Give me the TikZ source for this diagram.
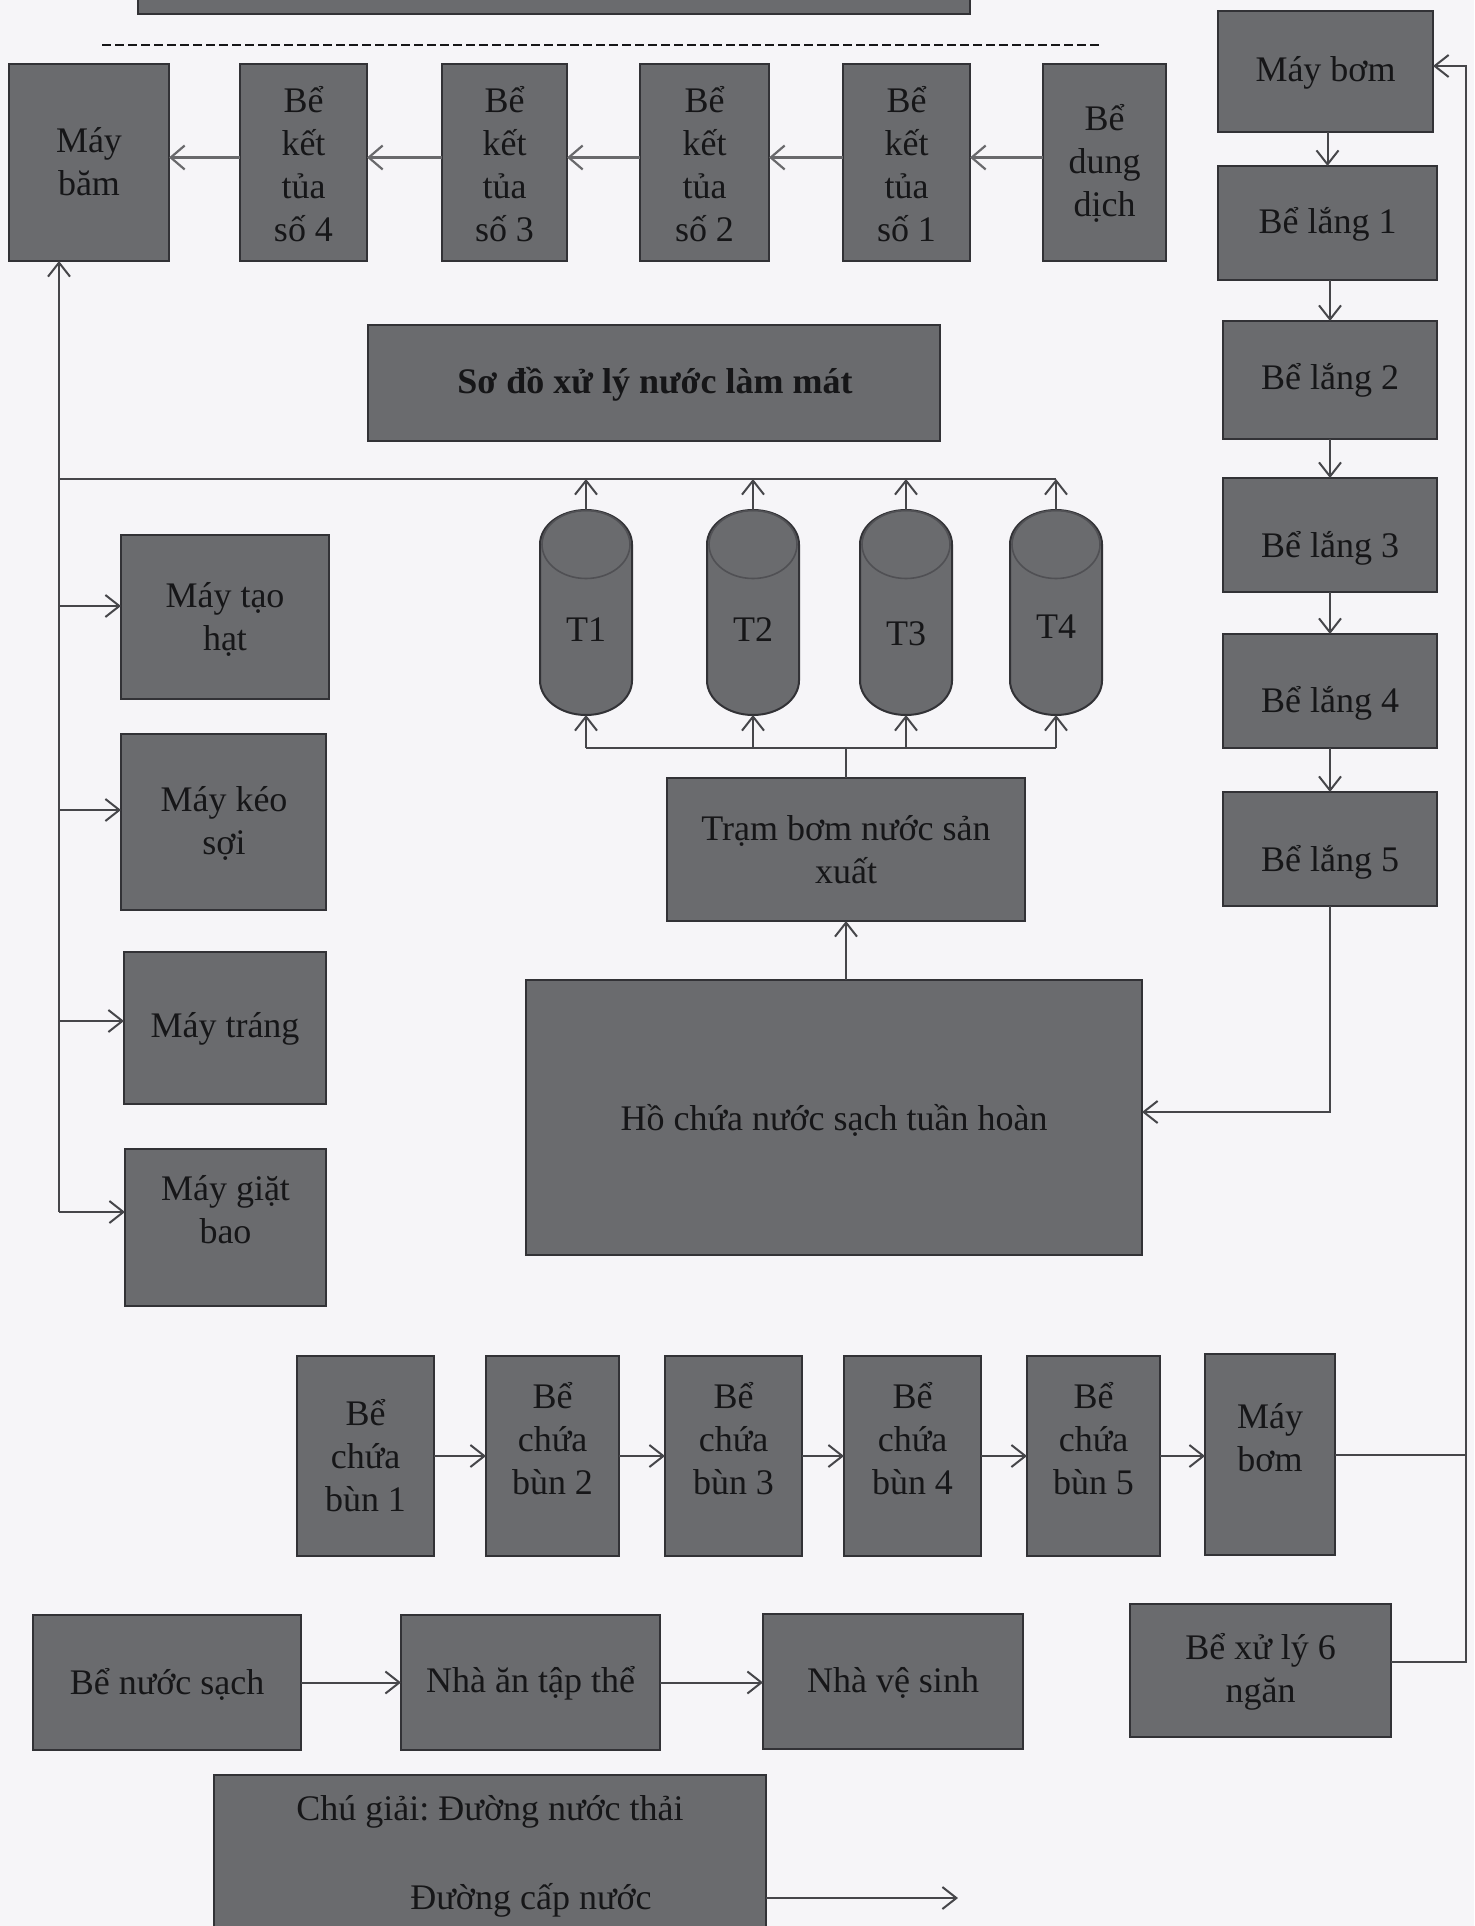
\documentclass[tikz,border=0pt]{standalone}
\usepackage{fontspec}
\setmainfont{Liberation Serif}
\usetikzlibrary{arrows.meta,calc}
\frenchspacing
\definecolor{bg}{RGB}{246,245,248}
\definecolor{boxfill}{RGB}{106,107,110}
\definecolor{boxline}{RGB}{50,50,54}
\definecolor{conn}{RGB}{70,70,74}
\definecolor{connT}{RGB}{105,105,108}
\definecolor{txtc}{RGB}{22,22,24}
\definecolor{cylrim}{RGB}{80,80,84}
\tikzset{
  box/.style={draw=boxline, fill=boxfill, line width=2pt, inner sep=0pt, outer sep=0pt},
  txt/.style={text=txtc, align=center, inner sep=0pt, font=\fontsize{36}{43}\selectfont},
  cylanchor/.style={inner sep=0pt, outer sep=0pt, minimum width=92pt, minimum height=205pt},
  cylbody/.style={draw=boxline, fill=boxfill, line width=2pt},
  cyltop/.style={draw=cylrim, line width=1.6pt},
  plainline/.style={draw=conn, line width=2pt},
  arr/.style={draw=conn, line width=2pt, -{Straight Barb[length=14pt,width=22pt,line width=2pt]}},
  arrT/.style={draw=connT, line width=3pt, -{Straight Barb[length=14pt,width=24pt,line width=2.2pt]}},
  dashline/.style={draw=txtc, line width=2.6pt, dash pattern=on 9pt off 4pt}
}
\newcommand\bx[5]{\node[box, minimum width={(#4)-(#2)}, minimum height={(#5)-(#3)}] (#1) at ({((#2)+(#4))/2},{((#3)+(#5))/2}) {};}
\newcommand\cyl[3]{%
  \node[cylanchor] (#1) at (#2,612.5) {};
  \path[cylbody] ({#2-46},544.5) arc[start angle=180,end angle=0,x radius=46pt,y radius=34.5pt]
     -- ({#2+46},680.5) arc[start angle=0,end angle=-180,x radius=46pt,y radius=34.5pt] -- cycle;
  \draw[cyltop] (#2,544.5) ellipse [x radius=44pt, y radius=34pt];
  \node[txt] (#1t) at (#2,#3) {#1};
}
\begin{document}
\begin{tikzpicture}[x=1pt,y=-1pt]
\useasboundingbox (0,0) rectangle (1474,1926);
\clip (0,0) rectangle (1474,1926);
\fill[bg] (0,0) rectangle (1474,1926);

% top bar (cut off) and dashed line
\bx{topbar}{138}{-40}{970}{14}
\coordinate (dashA) at (102,45);
\coordinate (dashB) at (1102,45);
\draw[dashline] (dashA) -- (dashB);

% top row
\bx{bam}{9}{64}{169}{261}
\bx{kt4}{240}{64}{367}{261}
\bx{kt3}{442}{64}{567}{261}
\bx{kt2}{640}{64}{769}{261}
\bx{kt1}{843}{64}{970}{261}
\bx{dd}{1043}{64}{1166}{261}
\node[txt] (bamt) at (89,162) {Máy\\băm};
\node[txt] (kt4t) at (303.5,164) {Bể\\kết\\tủa\\số 4};
\node[txt] (kt3t) at (504.5,164) {Bể\\kết\\tủa\\số 3};
\node[txt] (kt2t) at (704.5,164) {Bể\\kết\\tủa\\số 2};
\node[txt] (kt1t) at (906.5,164) {Bể\\kết\\tủa\\số 1};
\node[txt] (ddt) at (1104.5,163) {Bể\\dung\\dịch};

% right column
\bx{bomA}{1218}{11}{1433}{132}
\bx{lang1}{1218}{166}{1437}{280}
\bx{lang2}{1223}{321}{1437}{439}
\bx{lang3}{1223}{478}{1437}{592}
\bx{lang4}{1223}{634}{1437}{748}
\bx{lang5}{1223}{792}{1437}{906}
\node[txt] (bomAt) at (1325.5,73) {Máy bơm};
\node[txt] (lang1t) at (1327.5,224) {Bể lắng 1};
\node[txt] (lang2t) at (1330,380) {Bể lắng 2};
\node[txt] (lang3t) at (1330,548) {Bể lắng 3};
\node[txt] (lang4t) at (1330,703) {Bể lắng 4};
\node[txt] (lang5t) at (1330,862) {Bể lắng 5};

% title
\bx{title}{368}{325}{940}{441}
\node[txt, font=\fontsize{36}{43}\selectfont\bfseries] (titlet) at (655,384) {Sơ đồ xử lý nước làm mát};

% machines on the left
\bx{taohat}{121}{535}{329}{699}
\bx{keosoi}{121}{734}{326}{910}
\bx{trang}{124}{952}{326}{1104}
\bx{giat}{125}{1149}{326}{1306}
\node[txt] (taohatt) at (225,619) {Máy tạo\\hạt};
\node[txt] (keosoit) at (224,823) {Máy kéo\\sợi};
\node[txt] (trangt) at (225,1029) {Máy tráng};
\node[txt] (giatt) at (225.5,1210) {Máy giặt\\bao};

% cylinders
\cyl{T1}{586}{630}
\cyl{T2}{753}{630}
\cyl{T3}{906}{634}
\cyl{T4}{1056}{627}

% pump station and reservoir
\bx{tram}{667}{778}{1025}{921}
\bx{ho}{526}{980}{1142}{1255}
\node[txt] (tramt) at (846,850) {Trạm bơm nước sản\\xuất};
\node[txt] (hot) at (834,1120) {Hồ chứa nước sạch tuần hoàn};

% sludge row
\bx{bun1}{297}{1356}{434}{1556}
\bx{bun2}{486}{1356}{619}{1556}
\bx{bun3}{665}{1356}{802}{1556}
\bx{bun4}{844}{1356}{981}{1556}
\bx{bun5}{1027}{1356}{1160}{1556}
\bx{bomB}{1205}{1354}{1335}{1555}
\node[txt] (bun1t) at (365.5,1456) {Bể\\chứa\\bùn 1};
\node[txt] (bun2t) at (552.5,1439) {Bể\\chứa\\bùn 2};
\node[txt] (bun3t) at (733.5,1439) {Bể\\chứa\\bùn 3};
\node[txt] (bun4t) at (912.5,1439) {Bể\\chứa\\bùn 4};
\node[txt] (bun5t) at (1093.5,1439) {Bể\\chứa\\bùn 5};
\node[txt] (bomBt) at (1270,1438) {Máy\\bơm};

% domestic row
\bx{sach}{33}{1615}{301}{1750}
\bx{nhaan}{401}{1615}{660}{1750}
\bx{vesinh}{763}{1614}{1023}{1749}
\bx{xuly}{1130}{1604}{1391}{1737}
\node[txt] (sacht) at (167,1684) {Bể nước sạch};
\node[txt] (nhaant) at (530.5,1683) {Nhà ăn tập thể};
\node[txt] (vesinht) at (893,1683) {Nhà vệ sinh};
\node[txt] (xulyt) at (1260.5,1672) {Bể xử lý 6\\ngăn};

% legend
\bx{legend}{214}{1775}{766}{1990}
\node[txt] (legA) at (490,1812) {Chú giải: Đường nước thải};
\node[txt] (legB) at (531,1900) {Đường cấp nước};
\coordinate (legEnd) at (958,1898);
\draw[arr] (legend.east |- legEnd) -- (legEnd);

% ---------- connectors ----------
% top row, right to left
\draw[arrT] ([yshift=5pt]dd.west) -- ([yshift=5pt]kt1.east);
\draw[arrT] ([yshift=5pt]kt1.west) -- ([yshift=5pt]kt2.east);
\draw[arrT] ([yshift=5pt]kt2.west) -- ([yshift=5pt]kt3.east);
\draw[arrT] ([yshift=5pt]kt3.west) -- ([yshift=5pt]kt4.east);
\draw[arrT] ([yshift=5pt]kt4.west) -- ([yshift=5pt]bam.east);

% left trunk
\coordinate (tr0) at (59,1212);
\coordinate (tr1) at (59,1021);
\coordinate (tr2) at (59,810);
\coordinate (tr3) at (59,606);
\coordinate (jA) at (59,479);
\coordinate (jB) at (1056,479);
\draw[arr] (tr0) -- (tr0 |- bam.south);
\draw[arr] (tr0) -- (tr0 -| giat.west);
\draw[arr] (tr1) -- (tr1 -| trang.west);
\draw[arr] (tr2) -- (tr2 -| keosoi.west);
\draw[arr] (tr3) -- (tr3 -| taohat.west);
\draw[plainline] (jA) -- (jB);

% cylinders outlets
\foreach \t in {T1,T2,T3,T4} {
  \draw[arr] (\t.north) -- (\t.north |- jA);
}
% manifold from pump station
\coordinate (mf) at (846,748);
\draw[plainline] (tram.north) -- (tram.north |- mf);
\draw[plainline] (T1.south |- mf) -- (T4.south |- mf);
\foreach \t in {T1,T2,T3,T4} {
  \draw[arr] (\t.south |- mf) -- (\t.south);
}
\draw[arr] (tram.south |- ho.north) -- (tram.south);

% settling chain
\draw[arr] (lang1.north |- bomA.south) -- (lang1.north);
\draw[arr] (lang2.north |- lang1.south) -- (lang2.north);
\draw[arr] (lang3.north |- lang2.south) -- (lang3.north);
\draw[arr] (lang4.north |- lang3.south) -- (lang4.north);
\draw[arr] (lang5.north |- lang4.south) -- (lang5.north);
\draw[arr] (lang5.south) |- ([yshift=5.5pt]ho.east);

% right loop
\coordinate (rx) at (1466,66);
\draw[arr] ([yshift=8.5pt]xuly.east) -| (rx) -- ([yshift=5.5pt]bomA.east);
\draw[plainline] (bomB.east) -- (bomB.east -| rx);

% sludge chain
\draw[arr] (bun1.east) -- (bun2.west);
\draw[arr] (bun2.east) -- (bun3.west);
\draw[arr] (bun3.east) -- (bun4.west);
\draw[arr] (bun4.east) -- (bun5.west);
\draw[arr] (bun5.east) -- (bomB.west |- bun5.east);

% domestic chain
\draw[arr] (sach.east) -- (nhaan.west);
\draw[arr] (nhaan.east) -- (vesinh.west |- nhaan.east);
\end{tikzpicture}
\end{document}
